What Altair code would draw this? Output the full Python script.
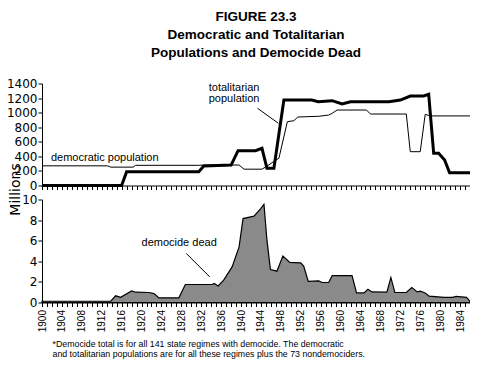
import altair as alt
import pandas as pd

# ---------------- data ----------------
tot_years = [1900, 1916, 1917, 1931.5, 1932.5, 1938, 1939.4, 1942.9, 1944.2, 1945.2, 1946.6,
             1948.6, 1954.2, 1955.5, 1958.3, 1960.3, 1962, 1969.7, 1972, 1974, 1976.7, 1977.7,
             1978.7, 1979.7, 1980.9, 1981.9, 1986]
tot_vals = [0, 0, 190, 190, 268, 280, 478, 478, 510, 236, 236,
            1173, 1173, 1150, 1164, 1118, 1150, 1150, 1173, 1228, 1228, 1251,
            442, 442, 350, 176, 176]

dem_years = [1900, 1913.2, 1913.8, 1918.3, 1918.8, 1931.5, 1932.5, 1939.6, 1940.6, 1944.2,
             1945.2, 1947, 1947.6, 1949.3, 1950.6, 1951.4, 1955.6, 1957.6, 1958.3, 1959.3,
             1965.2, 1966, 1973.2, 1974, 1976, 1977, 1978, 1986]
dem_vals = [270, 270, 252, 252, 277, 277, 281, 281, 224, 224,
            265, 350, 373, 876, 889, 940, 950, 967, 991, 1036,
            1036, 981, 981, 464, 464, 977, 955, 955]

dd_years = [1900, 1913.8, 1914.8, 1915.8, 1918, 1918.8, 1921.5, 1922.5, 1923.5, 1927.5,
            1928.8, 1934.2, 1934.6, 1935.4, 1936.5, 1938.2, 1939.6, 1940.4, 1942.6, 1943.9,
            1944.6, 1945.2, 1945.9, 1947.2, 1948.4, 1949.8, 1952, 1952.6, 1953.5, 1955.6,
            1956.3, 1957.6, 1958.3, 1962.3, 1963.2, 1964.7, 1965.5, 1966.3, 1969.3, 1970.1,
            1970.9, 1973.2, 1974.3, 1975.4, 1976, 1977, 1977.8, 1980.8, 1982.5, 1983.2,
            1985.3, 1986]
dd_vals = [0.12, 0.12, 0.65, 0.5, 1.13, 1.0, 0.97, 0.87, 0.45, 0.45,
           1.75, 1.75, 1.84, 1.61, 2.17, 3.46, 5.4, 8.15, 8.38, 9.1,
           9.54, 6.05, 3.2, 3.04, 4.52, 3.9, 3.84, 3.52, 2.05, 2.1,
           1.94, 1.94, 2.6, 2.6, 0.93, 0.93, 1.29, 1.03, 1.0, 2.43,
           0.97, 0.97, 1.46, 1.03, 1.1, 0.93, 0.61, 0.5, 0.5, 0.6,
           0.5, 0.1]

tick_years = list(range(1900, 1987))
pop_ticks = [0, 200, 400, 600, 800, 1000, 1200, 1400]
dd_ticks = [0, 2, 4, 6, 8, 10]

title_lines = ["FIGURE 23.3", "Democratic and Totalitarian", "Populations and Democide Dead"]
footnote_lines = [
    "*Democide total is for all 141 state regimes with democide. The democratic",
    "and totalitarian populations are for all these regimes plus the 73 nondemociders.",
]

lbl_dem = ["democratic population"]
lbl_dem_year = [1901.8]
lbl_dem_val = [336]

lbl_tot = ["totalitarian", "population"]
lbl_tot_year = [1938.6, 1938.6]
lbl_tot_val = [1301, 1150]

lead_top = {"year": [1943.3], "year2": [1947.5], "value": [1060], "value2": [854]}

lbl_dd = ["democide dead"]
lbl_dd_year = [1920.0]
lbl_dd_val = [5.5]
lead_bot = {"year": [1929.0], "year2": [1933.7], "value": [4.76], "value2": [2.49]}

# ---------------- tables ----------------
df_tot = pd.DataFrame({"year": tot_years, "value": tot_vals})
df_dem = pd.DataFrame({"year": dem_years, "value": dem_vals})
df_dd = pd.DataFrame({"year": dd_years, "value": dd_vals})
df_lbl_dem = pd.DataFrame({"year": lbl_dem_year, "value": lbl_dem_val, "label": lbl_dem})
df_lbl_tot = pd.DataFrame({"year": lbl_tot_year, "value": lbl_tot_val, "label": lbl_tot})
df_lead_top = pd.DataFrame(lead_top)
df_lbl_dd = pd.DataFrame({"year": lbl_dd_year, "value": lbl_dd_val, "label": lbl_dd})
df_lead_bot = pd.DataFrame(lead_bot)

# ---------------- layout (pixels inside the plot area) ----------------
W, H = 428, 219
TOP_H = 102          # upper panel occupies 0..102
BOT_TOP = 116        # lower panel occupies 116..219

x_top = alt.X("year:Q", scale=alt.Scale(domain=[1900, 1986], nice=False, zero=False),
              axis=alt.Axis(values=tick_years, labels=False, title=None, grid=False, tickSize=4,
                            orient="bottom", offset=-(H - TOP_H)))
y_top = alt.Y("value:Q", scale=alt.Scale(domain=[0, 1400], nice=False, zero=True, range=[TOP_H, 0]),
              axis=alt.Axis(values=pop_ticks, format="d", grid=False, tickSize=4, labelPadding=1,
                            orient="left",
                            title="Millions", titleAngle=270, titleX=-34, titleY=105.5,
                            titleAlign="center", titleBaseline="top",
                            titleFont="DejaVu Sans", titleFontSize=14, titleFontWeight="normal"))

thin = alt.Chart(df_dem).mark_line(color="black", strokeWidth=1).encode(x=x_top, y=y_top)
thick = alt.Chart(df_tot).mark_line(color="black", strokeWidth=3).encode(x=x_top, y=y_top)
t_dem = alt.Chart(df_lbl_dem).mark_text(align="left", baseline="alphabetic", font="Liberation Sans",
                                        fontSize=11, color="black").encode(x=x_top, y=y_top, text="label:N")
t_tot = alt.Chart(df_lbl_tot).mark_text(align="center", baseline="alphabetic", font="Liberation Sans",
                                        fontSize=11, color="black").encode(x=x_top, y=y_top, text="label:N")
r_top = alt.Chart(df_lead_top).mark_rule(color="black", strokeWidth=1).encode(
    x=x_top, x2="year2:Q", y=y_top, y2="value2:Q")

top = alt.layer(thin, thick, t_dem, t_tot, r_top)

x_bot = alt.X("year:Q", scale=alt.Scale(domain=[1900, 1986], nice=False, zero=False),
              axis=alt.Axis(values=tick_years, format="d", orient="bottom",
                            labelExpr="datum.value % 4 == 0 ? datum.label : ''",
                            labelAngle=270, labelFont="Liberation Sans", labelFontSize=10,
                            labelOverlap=False, labelPadding=3, tickSize=4, grid=False,
                            title=footnote_lines, titleAnchor="start", titleAlign="left",
                            titleBaseline="top", titleX=10, titleY=37,
                            titleFont="Liberation Sans", titleFontSize=8.8,
                            titleFontWeight="normal", titleLineHeight=10))
y_bot = alt.Y("value:Q", scale=alt.Scale(domain=[0, 10], nice=False, zero=True, range=[H, BOT_TOP]),
              axis=alt.Axis(values=dd_ticks, format="d", grid=False, tickSize=4, labelPadding=1,
                            orient="left", title=None))

area = alt.Chart(df_dd).mark_area(fill="#8a8a8a", stroke="black", strokeWidth=1.2).encode(x=x_bot, y=y_bot)
t_dd = alt.Chart(df_lbl_dd).mark_text(align="left", baseline="alphabetic", font="Liberation Sans",
                                      fontSize=11, color="black").encode(x=x_bot, y=y_bot, text="label:N")
r_bot = alt.Chart(df_lead_bot).mark_rule(color="black", strokeWidth=1).encode(
    x=x_bot, x2="year2:Q", y=y_bot, y2="value2:Q")

bottom = alt.layer(area, t_dd, r_bot)

chart = alt.layer(top, bottom).resolve_scale(x="independent", y="independent").properties(
    width=W, height=H,
    autosize=alt.AutoSizeParams(type="none"),
    padding={"left": 34, "top": 75.5, "right": 0, "bottom": 56},
    title=alt.TitleParams(title_lines, font="Liberation Sans", fontSize=13.5, fontWeight="bold",
                          lineHeight=18, anchor="middle", frame="group", offset=18, color="black"),
).configure_view(stroke=None).configure_axis(
    labelFont="DejaVu Sans", labelFontSize=12, labelColor="black",
    domainColor="black", tickColor="black", titleColor="black",
    domainWidth=1, tickWidth=1
)

chart.save("out.html", embed_options={"renderer": "svg", "actions": False})
